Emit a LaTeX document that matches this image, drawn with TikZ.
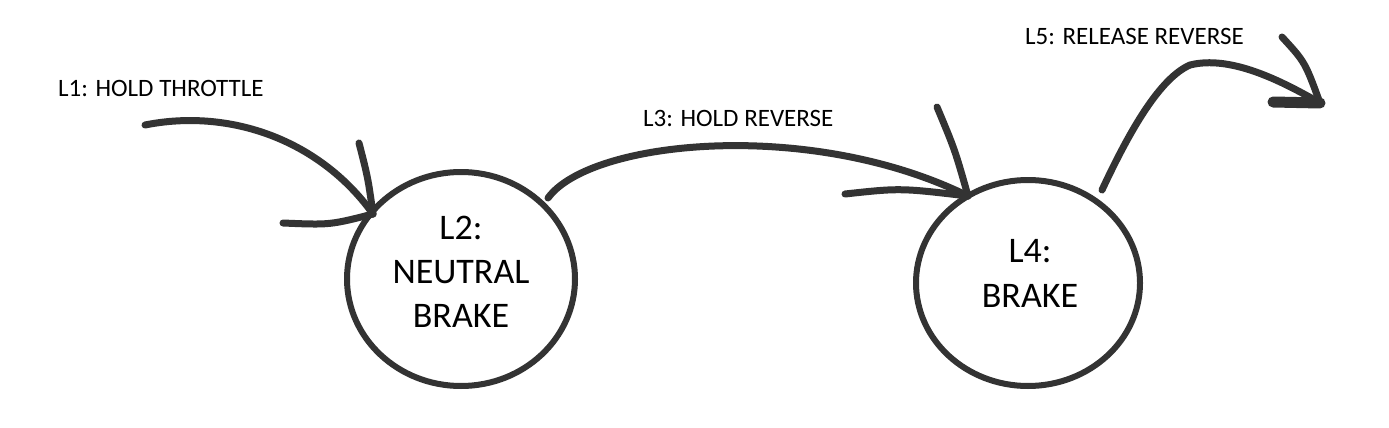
\documentclass[tikz,border=0pt]{standalone}
\usepackage{fontspec}
\setmainfont{Carlito}
\usetikzlibrary{shapes.geometric}
\definecolor{ink}{HTML}{333333}
\begin{document}
\begin{tikzpicture}[x=1pt,y=-1pt,
  state/.style={draw=ink,line width=6pt,ellipse,inner sep=0pt},
  txt/.style={align=center,inner sep=0pt,text=black,font=\fontsize{36}{45}\selectfont},
  stroke/.style={draw=ink,line width=7pt,line cap=round,line join=round},
  lbl/.style={anchor=west,inner sep=0pt,font=\fontsize{25}{28}\selectfont,text=black}]
\useasboundingbox[fill=white] (0,0) rectangle (1389,428);
\node[state,minimum width=228pt,minimum height=214pt] (l2) at (461,279) {};
\node[txt,font=\fontsize{36}{44}\selectfont] (l2t) at (461,272) {L2:\\NEUTRAL\\BRAKE};
\node[state,minimum width=224pt,minimum height=206pt] (l4) at (1028,283) {};
\node[txt] (l4t) at (1030,273) {L4:\\BRAKE};
\node[lbl] (t1) at (58,88) {L1: HOLD THROTTLE};
\node[lbl] (t3) at (643,118) {L3: HOLD REVERSE};
\node[lbl] (t5) at (1025,36) {L5: RELEASE REVERSE};
% arrow L1
\coordinate (s1) at (145,125);
\coordinate (e1) at (373,214);
\draw[stroke] (s1) .. controls (230,108) and (320,140) .. (e1);
\coordinate (h1a) at (359,143);
\coordinate (h1b) at (283,223);
\draw[stroke] (h1a) .. controls (368,178) .. (e1);
\draw[stroke] (h1b) .. controls (330,225) .. (e1);
% arrow L3
\coordinate (s3) at (548,198);
\coordinate (e3) at (968,196);
\draw[stroke] (s3) .. controls (590,140) and (810,118) .. (e3);
\coordinate (h3a) at (937,107);
\coordinate (h3b) at (845,194);
\draw[stroke] (h3a) .. controls (955,150) .. (e3);
\draw[stroke] (h3b) .. controls (900,188) .. (e3);
% arrow L5
\coordinate (s5) at (1102,190);
\coordinate (m5) at (1190,65);
\coordinate (e5) at (1320,103);
\draw[stroke] (s5) .. controls (1130,130) and (1160,78) .. (m5) .. controls (1230,55) and (1280,80) .. (e5);
\coordinate (h5a) at (1282,37);
\coordinate (h5b) at (1273,102);
\draw[stroke] (h5a) .. controls (1305,62) .. (e5);
\draw[stroke,line width=11pt] (h5b) -- (e5);
\end{tikzpicture}
\end{document}
